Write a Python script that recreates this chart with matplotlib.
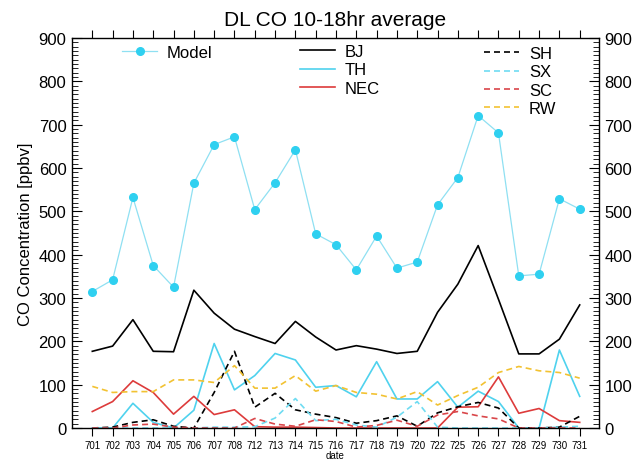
import numpy as np
import matplotlib.pyplot as plt
from matplotlib.ticker import MultipleLocator

plt.rcParams["font.family"] = ["Liberation Sans", "DejaVu Sans"]

# ---------------------------------------------------------------------------
# Daten
# ---------------------------------------------------------------------------
dates = ["701", "702", "703", "704", "705", "706", "707", "708", "712", "713",
         "714", "715", "716", "717", "718", "719", "720", "722", "725", "726",
         "727", "728", "729", "730", "731"]

model = [315, 342, 532, 375, 325, 565, 654, 672, 504, 566,
         642, 448, 423, 365, 443, 369, 383, 515, 578, 721,
         681, 351, 355, 529, 505]
bj = [177, 189, 250, 177, 176, 318, 265, 228, 211, 195,
      246, 210, 180, 190, 182, 172, 177, 267, 332, 421,
      297, 171, 171, 205, 284]
th = [0, 0, 57, 13, 0, 41, 195, 88, 121, 172,
      157, 94, 98, 72, 153, 67, 67, 107, 48, 85,
      61, 0, 0, 180, 73]
nec = [38, 61, 109, 82, 32, 73, 31, 42, 3, 2,
       2, 1, 0, 0, 0, 0, 0, 0, 48, 49,
       118, 34, 45, 17, 13]
sh = [0, 2, 13, 19, 4, 0, 82, 177, 48, 80,
      42, 32, 24, 11, 17, 28, 4, 35, 49, 59,
      46, 0, 0, 2, 27]
sx = [0, 0, 0, 0, 0, 0, 2, 2, 3, 23,
      68, 17, 20, 7, 2, 25, 61, 2, 0, 0,
      0, 0, 0, 2, 4]
sc = [0, 0, 7, 9, 2, 0, 0, 0, 22, 9,
      4, 19, 15, 2, 6, 18, 4, 30, 38, 28,
      21, 0, 0, 0, 0]
rw = [96, 82, 84, 84, 111, 111, 105, 144, 92, 92,
      121, 85, 98, 82, 78, 67, 84, 53, 75, 94,
      128, 142, 132, 128, 115]

x = np.arange(len(dates))

# ---------------------------------------------------------------------------
# Plot
# ---------------------------------------------------------------------------
fig = plt.figure(figsize=(6.35, 4.6), dpi=100)
ax = fig.add_axes([72 / 635, 1 - 429 / 460, 527 / 635, 390 / 460])

dash = (0, (3.6, 2.4))
l_model, = ax.plot(x, model, color="#8fe0f2", lw=0.9, marker="o", ms=5.5,
                   mfc="#2fd0f0", mec="#2fd0f0", label="Model")
l_bj, = ax.plot(x, bj, color="black", lw=1.2, label="BJ")
l_th, = ax.plot(x, th, color="#4fd2ee", lw=1.2, label="TH")
l_nec, = ax.plot(x, nec, color="#dd3b3b", lw=1.2, label="NEC")
l_sh, = ax.plot(x, sh, color="black", lw=1.2, ls=dash, label="SH")
l_sx, = ax.plot(x, sx, color="#6fdcf2", lw=1.2, ls=dash, label="SX")
l_sc, = ax.plot(x, sc, color="#d9464a", lw=1.2, ls=dash, label="SC")
l_rw, = ax.plot(x, rw, color="#f2c232", lw=1.2, ls=dash, label="RW")

ax.set_xlim(-1, 24.95)
ax.set_ylim(0, 900)
ax.set_xticks(x)
ax.set_xticklabels(dates, fontsize=7)
ax.yaxis.set_major_locator(MultipleLocator(100))
ax.yaxis.set_minor_locator(MultipleLocator(10))

ax.tick_params(axis="x", direction="out", top=True, length=5.5, width=0.8, pad=3.5)
ax.tick_params(axis="y", which="major", direction="in", left=True, right=True,
               labelright=True, length=7, width=0.8, labelsize=12, pad=4)
ax.tick_params(axis="y", which="minor", direction="in", left=True, right=True,
               length=4, width=0.6)
for s in ax.spines.values():
    s.set_linewidth(1.0)

ax.set_title("DL CO 10-18hr average", fontsize=15, pad=9)
ax.set_ylabel("CO Concentration [ppbv]", fontsize=12, labelpad=4)
ax.set_xlabel("date", fontsize=7, labelpad=0)

common = dict(frameon=False, fontsize=12, borderpad=0, borderaxespad=0,
              handlelength=2.1, handletextpad=0.6, labelspacing=0.2,
              loc="upper left", bbox_transform=fig.transFigure)
leg1 = ax.legend(handles=[l_model], bbox_to_anchor=(122 / 635, 1 - 46 / 460),
                 numpoints=1, **common)
ax.add_artist(leg1)
leg2 = ax.legend(handles=[l_bj, l_th, l_nec], bbox_to_anchor=(300 / 635, 1 - 45 / 460),
                 **common)
ax.add_artist(leg2)
ax.legend(handles=[l_sh, l_sx, l_sc, l_rw], bbox_to_anchor=(484 / 635, 1 - 47 / 460),
          **common)

fig.savefig("out.png", dpi=100)
